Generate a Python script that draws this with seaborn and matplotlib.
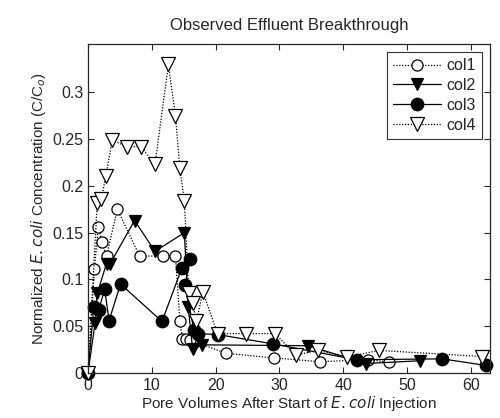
import matplotlib
matplotlib.use("Agg")
import matplotlib.pyplot as plt
import seaborn as sns
import pandas as pd

# pore volumes / normalized concentration
col1_x = [0, 1.0, 1.6, 2.2, 2.9, 4.6, 8.1, 11.8, 13.7, 14.4, 14.8, 15.4, 16.0, 21.6, 29.1, 36.3, 43.9, 47.2]
col1_y = [0, 0.111, 0.156, 0.140, 0.125, 0.175, 0.125, 0.125, 0.125, 0.056, 0.036, 0.036, 0.035, 0.021, 0.016, 0.012, 0.014, 0.0115]

col2_x = [0, 1.1, 1.45, 2.9, 3.4, 7.3, 10.5, 15.1, 15.7, 16.4, 17.9, 34.5, 43.6, 52.1]
col2_y = [0, 0.053, 0.085, 0.117, 0.116, 0.163, 0.130, 0.150, 0.071, 0.025, 0.030, 0.029, 0.010, 0.013]

col3_x = [0, 0.9, 1.7, 2.6, 3.3, 5.1, 11.6, 14.7, 16.0, 15.2, 16.6, 17.2, 20.3, 29.0, 42.1, 55.5, 62.3]
col3_y = [0, 0.070, 0.067, 0.090, 0.056, 0.095, 0.055, 0.112, 0.122, 0.094, 0.046, 0.042, 0.041, 0.031, 0.014, 0.015, 0.008]

col4_x = [0, 1.45, 2.1, 2.8, 3.8, 6.1, 8.3, 10.5, 12.6, 13.7, 14.4, 15.1, 15.8, 16.4, 17.0, 18.0, 20.3, 24.7, 29.3, 32.6, 36.0, 40.6, 45.6, 61.7]
col4_y = [0, 0.182, 0.186, 0.211, 0.249, 0.242, 0.242, 0.223, 0.330, 0.275, 0.219, 0.184, 0.085, 0.075, 0.055, 0.087, 0.042, 0.042, 0.042, 0.019, 0.024, 0.017, 0.024, 0.0175]

sns.set_style("ticks")
plt.rcParams['font.family'] = ['Liberation Sans', 'DejaVu Sans']
plt.rcParams['xtick.direction'] = 'in'
plt.rcParams['ytick.direction'] = 'in'

fig = plt.figure(figsize=(5, 4.18), dpi=100)
ax = fig.add_axes([0.176, 0.108, 0.804, 0.787])

dots = (0, (1, 1.3))
series = [
    ('col1', col1_x, col1_y, dict(marker='o', markerfacecolor='white', linestyle=dots, markersize=8)),
    ('col2', col2_x, col2_y, dict(marker='v', markerfacecolor='black', linestyle='-', markersize=9)),
    ('col3', col3_x, col3_y, dict(marker='o', markerfacecolor='black', linestyle='-', markersize=9)),
    ('col4', col4_x, col4_y, dict(marker='v', markerfacecolor='white', linestyle=dots, markersize=10)),
]

for name, xs, ys, st in series:
    df = pd.DataFrame({'x': xs, 'y': ys})
    sns.lineplot(data=df, x='x', y='y', sort=False, estimator=None, ax=ax,
                 color='black', markeredgecolor='black', markeredgewidth=0.9,
                 linewidth=0.9, label=name, clip_on=False, **st)

ax.set_xlim(0, 63)
ax.set_ylim(0, 0.352)
ax.set_xticks([0, 10, 20, 30, 40, 50, 60])
ax.set_yticks([0, 0.05, 0.1, 0.15, 0.2, 0.25, 0.3])
ax.set_yticklabels(['0', '0.05', '0.1', '0.15', '0.2', '0.25', '0.3'])
ax.tick_params(labelsize=11.5, top=True, right=True, length=4, width=0.8)
for s in ax.spines.values():
    s.set_linewidth(0.9)

ax.set_title('Observed Effluent Breakthrough', fontsize=12, pad=10)
ax.set_xlabel('Pore Volumes After Start of $\\it{E. coli}$ Injection', fontsize=11, labelpad=1)
ax.set_ylabel('Normalized $\\it{E. coli}$ Concentration (C/C$_o$)', fontsize=11, labelpad=3)

leg = ax.legend(loc='upper right', fontsize=11.5, frameon=True, fancybox=False,
                edgecolor='black', handlelength=3.0, borderaxespad=0.5,
                labelspacing=0.3, handletextpad=0.3, borderpad=0.4)
leg.get_frame().set_linewidth(0.8)

fig.savefig('out.png', dpi=100)
